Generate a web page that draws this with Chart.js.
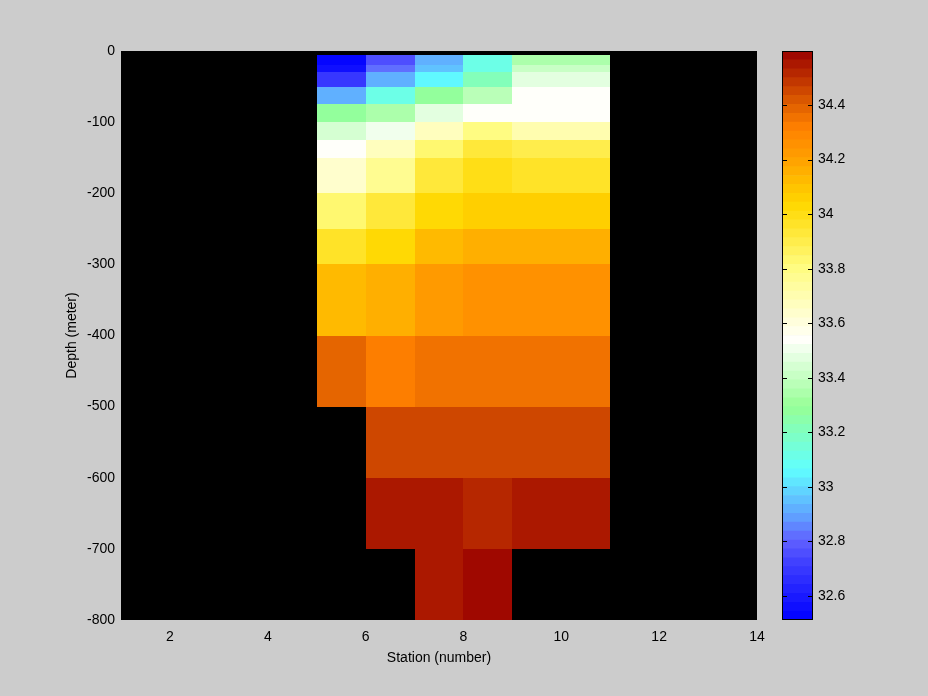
<!DOCTYPE html>
<html>
<head>
<meta charset="utf-8">
<script src="https://cdn.jsdelivr.net/npm/chart.js@4.4.0/dist/chart.umd.min.js"></script>
<style>
  html, body { margin: 0; padding: 0; background: #cccccc; }
  #wrap { position: relative; width: 928px; height: 696px; }
  #section { position: absolute; left: 0; top: 0; }
  #cbar { position: absolute; left: 770px; top: 0; }
</style>
</head>
<body>
<div id="wrap">
  <canvas id="section" width="928" height="696"></canvas>
  <canvas id="cbar" width="158" height="696"></canvas>
</div>
<script>
// stations (left edge of each cell) and depth layer edges in meters
const stations = [5, 6, 7, 8, 9, 10];
const depthEdges = [5, 20, 30, 50, 75, 100, 125, 150, 200, 250, 300, 400, 500, 600, 700, 800];

// salinity per station, one value per depth layer (null = no data)
const st5  = [32.52, 32.57, 32.70, 32.93, 33.29, 33.43, 33.55, 33.64, 33.84, 33.95, 34.12, 34.40, null, null, null];
const st6  = [32.76, 32.82, 32.93, 33.12, 33.35, 33.51, 33.66, 33.76, 33.93, 34.03, 34.17, 34.32, 34.46, 34.56, null];
const st7  = [32.93, 32.96, 33.06, 33.29, 33.46, 33.66, 33.84, 33.93, 34.03, 34.14, 34.21, 34.36, 34.46, 34.56, 34.56];
const st8  = [33.12, 33.12, 33.22, 33.39, 33.55, 33.80, 33.93, 34.00, 34.07, 34.17, 34.25, 34.36, 34.46, 34.53, 34.598];
const st9  = [33.35, 33.41, 33.46, 33.55, 33.55, 33.70, 33.90, 33.97, 34.07, 34.17, 34.25, 34.36, 34.46, 34.56, null];
const st10 = [33.35, 33.41, 33.46, 33.55, 33.55, 33.70, 33.90, 33.97, 34.07, 34.17, 34.25, 34.36, 34.46, 34.56, null];
const salinity = [st5, st6, st7, st8, st9, st10];

const xTicks = [2, 4, 6, 8, 10, 12, 14];
const yTicks = [0, -100, -200, -300, -400, -500, -600, -700, -800];
const cbTicks = [32.6, 32.8, 33, 33.2, 33.4, 33.6, 33.8, 34, 34.2, 34.4];
const cMin = 32.512, cMax = 34.598;

// colormap: blue -> cyan -> green -> white -> yellow -> orange -> dark red, 64 steps
const nLevels = 64;
const stops = [
  [0, '#0000ff'], [0.10, '#4040ff'], [0.139, '#6060ff'], [0.181, '#60a0ff'],
  [0.264, '#60ffff'], [0.329, '#80ffc0'], [0.374, '#96ff96'], [0.492, '#fffffa'],
  [0.619, '#fffc80'], [0.73, '#ffd800'], [0.81, '#ffa000'], [0.865, '#ff8000'],
  [0.905, '#e06000'], [1, '#990000']
];
function hex(c) { return [1, 3, 5].map(i => parseInt(c.substr(i, 2), 16)); }
function cmapAt(f) {
  for (let i = 1; i < stops.length; i++) {
    if (f <= stops[i][0]) {
      const t = (f - stops[i - 1][0]) / (stops[i][0] - stops[i - 1][0]);
      const a = hex(stops[i - 1][1]), b = hex(stops[i][1]);
      const c = a.map((v, k) => Math.round(v + (b[k] - v) * t));
      return 'rgb(' + c.join(',') + ')';
    }
  }
  return stops[stops.length - 1][1];
}
const levelColors = [];
for (let k = 0; k < nLevels; k++) levelColors.push(cmapAt((k + 0.5) / nLevels));
function colorFor(v) {
  let k = Math.floor((v - cMin) / (cMax - cMin) * nLevels);
  k = Math.max(0, Math.min(nLevels - 1, k));
  return levelColors[k];
}

const font = { family: 'Liberation Sans, Arial, sans-serif', size: 14 };

const heatmap = {
  id: 'heatmap',
  beforeDatasetsDraw(chart) {
    const { ctx, chartArea: a, scales: { x, y } } = chart;
    ctx.save();
    ctx.fillStyle = '#000';
    ctx.fillRect(a.left, a.top, a.right - a.left, a.bottom - a.top);
    stations.forEach((s, i) => {
      salinity[i].forEach((v, j) => {
        if (v == null) return;
        const x0 = Math.round(x.getPixelForValue(s)), x1 = Math.round(x.getPixelForValue(s + 1));
        const y0 = Math.round(y.getPixelForValue(-depthEdges[j])), y1 = Math.round(y.getPixelForValue(-depthEdges[j + 1]));
        ctx.fillStyle = colorFor(v);
        ctx.fillRect(x0, y0, x1 - x0, y1 - y0);
      });
    });
    ctx.restore();
  }
};

new Chart(document.getElementById('section'), {
  type: 'scatter',
  data: { datasets: [] },
  plugins: [heatmap],
  options: {
    responsive: false,
    animation: false,
    layout: { padding: { left: 0, top: 51, right: 171, bottom: 0 } },
    plugins: { legend: { display: false }, tooltip: { enabled: false } },
    scales: {
      x: {
        type: 'linear', min: 1, max: 14,
        afterBuildTicks: s => { s.ticks = xTicks.map(v => ({ value: v })); },
        afterFit: s => { s.height = 76; },
        grid: { display: false, drawTicks: false },
        border: { display: false },
        ticks: { color: '#000', font: font, padding: 9, maxRotation: 0, autoSkip: false },
        title: { display: true, text: 'Station (number)', color: '#000', font: font, padding: { top: 0, bottom: 29 } }
      },
      y: {
        type: 'linear', min: -800, max: 0,
        afterBuildTicks: s => { s.ticks = yTicks.map(v => ({ value: v })); },
        afterFit: s => { s.width = 121; },
        grid: { display: false, drawTicks: false },
        border: { display: false },
        ticks: { color: '#000', font: font, padding: 6, autoSkip: false },
        title: { display: true, text: 'Depth (meter)', color: '#000', font: font, padding: { top: 64, bottom: 0 } }
      }
    }
  }
});

// colorbar: one floating bar per colour level
const levelBars = levelColors.map((c, k) => ({
  data: [[cMin + (cMax - cMin) * k / nLevels, cMin + (cMax - cMin) * (k + 1) / nLevels]],
  backgroundColor: c,
  borderWidth: 0,
  barPercentage: 1,
  categoryPercentage: 1,
  grouped: false
}));

const cbFrame = {
  id: 'cbFrame',
  afterDraw(chart) {
    const { ctx, chartArea: a, scales: { y } } = chart;
    ctx.save();
    ctx.strokeStyle = '#000';
    ctx.lineWidth = 1;
    ctx.beginPath();
    cbTicks.forEach(v => {
      const py = Math.round(y.getPixelForValue(v)) + 0.5;
      ctx.moveTo(a.left, py); ctx.lineTo(a.left + 5, py);
      ctx.moveTo(a.right - 5, py); ctx.lineTo(a.right, py);
    });
    ctx.stroke();
    ctx.strokeRect(a.left + 0.5, a.top + 0.5, a.right - a.left - 1, a.bottom - a.top - 1);
    ctx.restore();
  }
};

new Chart(document.getElementById('cbar'), {
  type: 'bar',
  data: { labels: ['s'], datasets: levelBars },
  plugins: [cbFrame],
  options: {
    responsive: false,
    animation: false,
    layout: { padding: { left: 12, top: 51, right: 75, bottom: 76 } },
    plugins: { legend: { display: false }, tooltip: { enabled: false } },
    scales: {
      x: { display: false },
      y: {
        type: 'linear', position: 'right', min: cMin, max: cMax,
        afterBuildTicks: s => { s.ticks = cbTicks.map(v => ({ value: v })); },
        afterFit: s => { s.width = 40; },
        grid: { display: false, drawTicks: false },
        border: { display: false },
        ticks: { color: '#000', font: font, padding: 5, callback: v => String(+v.toFixed(1)) }
      }
    }
  }
});
</script>
</body>
</html>
